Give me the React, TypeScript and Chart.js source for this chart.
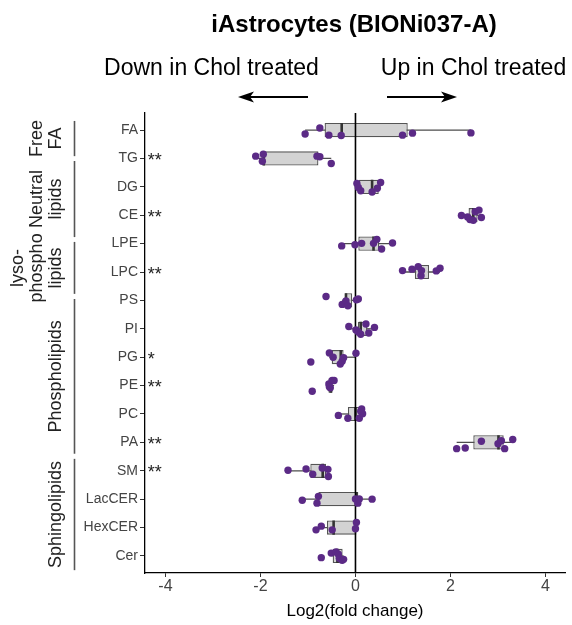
import React, { useEffect, useRef } from "react";
import { Chart, registerables } from "chart.js";

Chart.register(...registerables);

const FONT = "'Liberation Sans', Arial, Helvetica, sans-serif";

// ---------- data ----------
const chartTitle = "iAstrocytes (BIONi037-A)";
const downLabel = "Down in Chol treated";
const upLabel = "Up in Chol treated";
const xAxisTitle = "Log2(fold change)";

const categories = ["FA", "TG", "DG", "CE", "LPE", "LPC", "PS", "PI", "PG", "PE", "PC", "PA", "SM", "LacCER", "HexCER", "Cer"];

const whiskerLow = [-1.06, -2.1, 0.03, 2.23, -0.29, 0.99, -0.28, -0.14, -0.55, -0.56, -0.36, 2.13, -1.42, -1.12, -0.72, -0.48];
const boxQ1 = [-0.65, -1.96, 0.07, 2.38, 0.06, 1.25, -0.22, 0.05, -0.5, -0.57, -0.16, 2.48, -0.95, -0.78, -0.6, -0.48];
const boxMedian = [-0.29, -1.93, 0.35, 2.48, 0.38, 1.36, -0.2, 0.11, -0.31, -0.52, 0.0, 3.01, -0.69, 0.02, -0.46, -0.38];
const boxQ3 = [1.1, -0.78, 0.49, 2.57, 0.5, 1.55, -0.07, 0.25, -0.25, -0.48, 0.12, 3.12, -0.62, 0.06, 0.02, -0.27];
const whiskerHigh = [2.43, -0.51, 0.53, 2.65, 0.78, 1.78, 0.06, 0.4, -0.01, -0.45, 0.15, 3.31, -0.56, 0.35, 0.02, -0.25];

const pointValues = [
  [-1.06, -0.75, -0.56, -0.3, 0.99, 1.2, 2.43],
  [-2.1, -1.94, -1.96, -0.81, -0.75, -0.51],
  [0.03, 0.06, 0.11, 0.35, 0.46, 0.53],
  [2.23, 2.36, 2.41, 2.48, 2.52, 2.6, 2.65],
  [-0.29, -0.01, 0.13, 0.38, 0.45, 0.55, 0.78],
  [0.99, 1.19, 1.32, 1.39, 1.38, 1.7, 1.78],
  [-0.62, -0.28, -0.2, -0.16, 0.02, 0.06],
  [-0.14, 0.01, 0.06, 0.11, 0.22, 0.28, 0.4],
  [-0.94, -0.55, -0.47, -0.32, -0.28, -0.25, 0.01],
  [-0.91, -0.56, -0.53, -0.49, -0.45, -0.55],
  [-0.36, -0.16, 0.08, 0.13, 0.15, 0.11],
  [2.13, 2.31, 2.65, 3.0, 3.07, 3.14, 3.31],
  [-1.42, -1.04, -0.9, -0.7, -0.58, -0.57],
  [-1.12, -0.78, -0.81, 0.0, 0.05, 0.08, 0.35],
  [-0.83, -0.72, -0.49, 0.02, 0.0],
  [-0.72, -0.51, -0.41, -0.36, -0.34, -0.28, -0.25],
];
const pointJitter = [
  [0.14, -0.07, 0.18, 0.19, 0.18, 0.11, 0.1],
  [-0.08, -0.15, 0.1, -0.08, -0.06, 0.18],
  [-0.12, 0.02, 0.14, 0.18, 0.05, -0.15],
  [0.01, 0.06, 0.15, 0.18, -0.12, -0.18, 0.08],
  [0.08, 0.04, -0.01, -0.01, -0.15, 0.19, -0.02],
  [-0.05, -0.1, -0.19, -0.05, 0.13, -0.04, -0.13],
  [-0.14, 0.14, 0.02, 0.19, -0.02, -0.05],
  [-0.08, 0.04, 0.11, 0.19, -0.17, 0.15, -0.05],
  [0.17, -0.15, 0, 0.24, 0.14, 0.02, -0.14],
  [0.2, -0.06, 0.08, -0.18, -0.18, 0.04],
  [0.05, 0.15, 0.15, -0.18, -0.01, -0.1],
  [0.22, 0.2, -0.04, 0.05, -0.06, 0.22, -0.1],
  [-0.02, -0.06, 0.12, -0.1, -0.05, 0.2],
  [0.04, -0.1, 0.14, -0.01, 0.14, -0.01, 0],
  [0.08, -0.05, 0.08, -0.18, 0.04],
  [0.06, -0.1, -0.14, -0.06, 0.08, 0.15, 0.12],
];

const significance = ["", "**", "", "**", "", "**", "", "", "*", "**", "", "**", "**", "", "", ""];

const groupLabels = [["Free", "FA"], ["Neutral", "lipids"], ["lyso-", "phospho", "lipids"], ["Phospholipids"], ["Sphingolipids"]];
const groupStart = [-0.32, 1.09, 3.94, 5.95, 11.58];
const groupEnd = [0.92, 3.77, 5.77, 11.4, 15.5];

const xTicks = [-4, -2, 0, 2, 4];
const xMin = -4.43;
const xMax = 4.41;
const yMin = -0.6;
const yMax = 15.6;
const starX = -4.37;
const medianHalf = 0.25;

// ---------- drawing helpers ----------
function drawArrow(ctx: CanvasRenderingContext2D, from: number, to: number, y: number) {
  const dir = to > from ? 1 : -1;
  ctx.strokeStyle = "#000";
  ctx.fillStyle = "#000";
  ctx.lineWidth = 2;
  ctx.beginPath();
  ctx.moveTo(from, y);
  ctx.lineTo(to - dir * 10, y);
  ctx.stroke();
  ctx.beginPath();
  ctx.moveTo(to, y);
  ctx.lineTo(to - dir * 16, y - 5.5);
  ctx.lineTo(to - dir * 12, y);
  ctx.lineTo(to - dir * 16, y + 5.5);
  ctx.closePath();
  ctx.fill();
}

const annotationPlugin = {
  id: "annotations",
  afterDraw(chart: any) {
    const ctx: CanvasRenderingContext2D = chart.ctx;
    const ys = chart.scales.y;
    const xs = chart.scales.x;
    ctx.save();
    ctx.fillStyle = "#000";
    ctx.textAlign = "center";
    ctx.textBaseline = "middle";
    ctx.font = `bold 24px ${FONT}`;
    ctx.fillText(chartTitle, 354, 25);
    ctx.font = `23px ${FONT}`;
    ctx.fillText(downLabel, 211.5, 68.5);
    ctx.fillText(upLabel, 473.5, 68.5);
    drawArrow(ctx, 308, 238, 97);
    drawArrow(ctx, 387, 457, 97);

    // significance stars
    ctx.font = `18px ${FONT}`;
    ctx.textAlign = "left";
    ctx.textBaseline = "alphabetic";
    ctx.fillStyle = "#222";
    significance.forEach((s, i) => {
      if (!s) return;
      const py = ys.getPixelForValue(i);
      ctx.fillText(s, xs.getPixelForValue(starX), py + 7.5);
    });

    // group brackets and labels
    groupLabels.forEach((lines, g) => {
      const y1 = ys.getPixelForValue(groupStart[g]);
      const y2 = ys.getPixelForValue(groupEnd[g]);
      ctx.strokeStyle = "#555";
      ctx.lineWidth = 1.6;
      ctx.beginPath();
      ctx.moveTo(74.5, y1);
      ctx.lineTo(74.5, y2);
      ctx.stroke();
      const cy = (y1 + y2) / 2;
      ctx.fillStyle = "#222";
      ctx.font = `18px ${FONT}`;
      ctx.textAlign = "center";
      ctx.textBaseline = "middle";
      const n = lines.length;
      lines.forEach((txt, k) => {
        const cx = 56.5 - (n - 1 - k) * 19;
        ctx.save();
        ctx.translate(cx, cy);
        ctx.rotate(-Math.PI / 2);
        ctx.fillText(txt, 0, 0);
        ctx.restore();
      });
    });
    ctx.restore();
  },
};

export default function App() {
  const ref = useRef<HTMLCanvasElement>(null);
  useEffect(() => {
    Chart.defaults.font.family = FONT;
    const whiskerSets = categories.map((_, i) => ({
      type: "line" as const,
      data: [
        { x: whiskerLow[i], y: i },
        { x: whiskerHigh[i], y: i },
      ],
      borderColor: "#4d4d4d",
      borderWidth: 1.3,
      pointRadius: 0,
      order: 4,
    }));
    const medianSets = categories.map((_, i) => ({
      type: "line" as const,
      data: [
        { x: boxMedian[i], y: i - medianHalf },
        { x: boxMedian[i], y: i + medianHalf },
      ],
      borderColor: "#333",
      borderWidth: 2.6,
      pointRadius: 0,
      order: 2,
    }));
    const boxSet = {
      type: "bar" as const,
      indexAxis: "y" as const,
      data: categories.map((_, i) => ({ x: [boxQ1[i], boxQ3[i]], y: i })),
      backgroundColor: "#d3d3d3",
      borderColor: "#555",
      borderWidth: 1.3,
      borderSkipped: false,
      categoryPercentage: 1,
      barPercentage: 0.5,
      order: 3,
    };
    const zeroSet = {
      type: "line" as const,
      data: [
        { x: 0, y: yMin },
        { x: 0, y: yMax },
      ],
      borderColor: "#000",
      borderWidth: 1.6,
      pointRadius: 0,
      order: 1,
    };
    const pointSet = {
      type: "scatter" as const,
      data: pointValues.flatMap((vals, i) => vals.map((v, k) => ({ x: v, y: i + pointJitter[i][k] }))),
      backgroundColor: "#5B2A86",
      borderWidth: 0,
      pointRadius: 3.7,
      order: 0,
    };

    const chart = new Chart(ref.current!, {
      type: "scatter",
      data: { datasets: [...whiskerSets, boxSet, ...medianSets, zeroSet, pointSet] as any },
      options: {
        responsive: false,
        animation: false,
        layout: { padding: { top: 113, right: 7, bottom: 0, left: 0 } },
        plugins: { legend: { display: false }, tooltip: { enabled: false } },
        scales: {
          x: {
            type: "linear",
            min: xMin,
            max: xMax,
            offset: false,
            afterBuildTicks: (s: any) => {
              s.ticks = xTicks.map((v) => ({ value: v }));
            },
            afterFit: (s: any) => {
              s.height = 52;
            },
            ticks: { font: { size: 16 }, color: "#444", padding: 0 },
            grid: { offset: false, drawOnChartArea: false, drawTicks: true, tickLength: 4, color: "#333" },
            border: { display: true, color: "#000", width: 1.3 },
            title: { display: true, text: xAxisTitle, font: { size: 17 }, color: "#000", padding: { top: 0, bottom: 3 } },
          },
          y: {
            type: "linear",
            reverse: true,
            min: yMin,
            max: yMax,
            offset: false,
            afterBuildTicks: (s: any) => {
              s.ticks = categories.map((_, i) => ({ value: i }));
            },
            afterFit: (s: any) => {
              s.width = 145;
            },
            ticks: {
              autoSkip: false,
              font: { size: 14 },
              color: "#444",
              padding: 2,
              callback: (v: any) => categories[v as number] ?? "",
            },
            grid: { offset: false, drawOnChartArea: false, drawTicks: true, tickLength: 5, color: "#333" },
            border: { display: true, color: "#000", width: 1.3 },
          },
        },
      } as any,
      plugins: [annotationPlugin],
    });
    return () => chart.destroy();
  }, []);
  return (
    <canvas
      ref={ref}
      width={572}
      height={625}
      style={{ position: "absolute", left: 0, top: 0, width: 572, height: 625 }}
    />
  );
}
